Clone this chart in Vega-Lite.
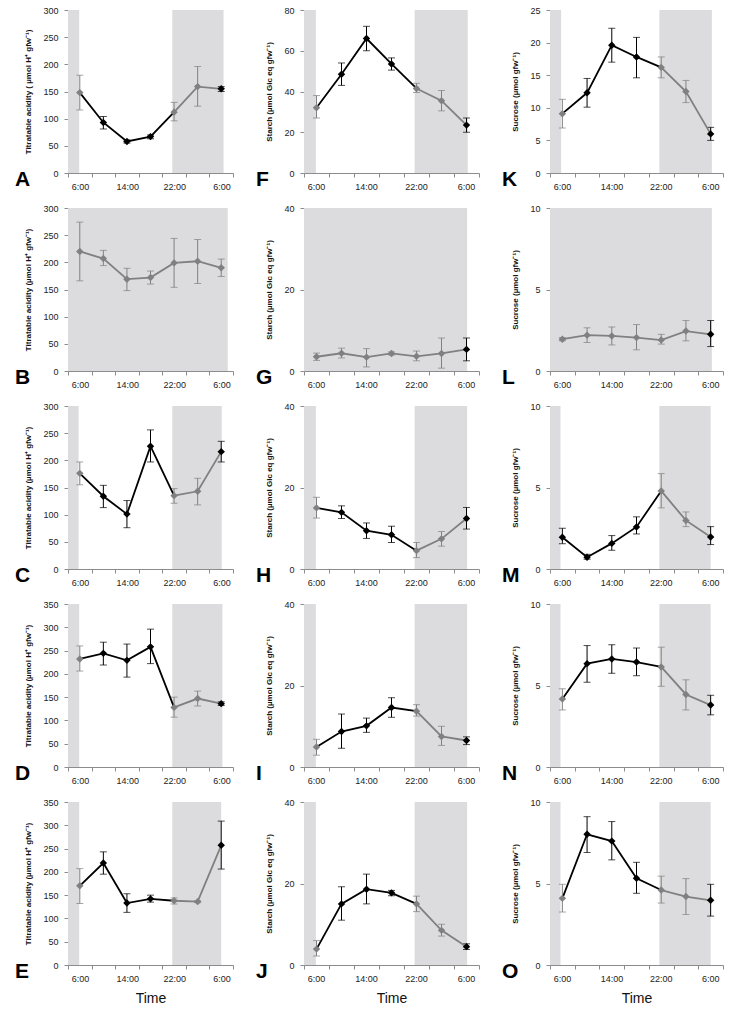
{
"$schema": "https://vega.github.io/schema/vega-lite/v6.json",
"padding": {"left": 14, "top": 6, "right": 5, "bottom": 3},
"columns": 3,
"spacing": {"row": 13, "column": 10},
"align": "each",
"config": {
 "view": {"stroke": null},
 "axis": {"domainColor": "#8c8c8c", "tickColor": "#8c8c8c", "grid": false, "labelFont": "Liberation Sans", "labelFontSize": 9, "labelColor": "#222222", "tickSize": 4, "titleFont": "Liberation Sans", "titleFontSize": 8, "titleFontWeight": "bold", "titleColor": "#111111"},
 "axisX": {"labelPadding": 5, "labelOffset": 12, "labelFlush": false, "labelOverlap": false, "labelBound": false, "titleFontSize": 14, "titleFontWeight": "normal", "titlePadding": 8},
 "axisY": {"labelPadding": 6, "titlePadding": 10},
 "title": {"font": "Liberation Sans", "fontSize": 21, "fontWeight": "bold", "orient": "bottom", "anchor": "start", "frame": "bounds", "offset": -22, "dx": -10, "color": "#000000"}
},
"datasets": {
 "shade": [
  {"p": "A", "t": 4, "t2": 5.9}, {"p": "A", "t": 21.7, "t2": 30.4},
  {"p": "B", "t": 4, "t2": 31.1},
  {"p": "C", "t": 4, "t2": 5.8}, {"p": "C", "t": 21.7, "t2": 30.1},
  {"p": "D", "t": 4, "t2": 5.9}, {"p": "D", "t": 21.7, "t2": 30.2},
  {"p": "E", "t": 4, "t2": 5.9}, {"p": "E", "t": 21.7, "t2": 30.0},
  {"p": "F", "t": 4, "t2": 5.9}, {"p": "F", "t": 21.7, "t2": 30.2},
  {"p": "G", "t": 4, "t2": 30.1},
  {"p": "H", "t": 4, "t2": 5.9}, {"p": "H", "t": 21.7, "t2": 30.1},
  {"p": "I", "t": 4, "t2": 5.9}, {"p": "I", "t": 21.7, "t2": 30.1},
  {"p": "J", "t": 4, "t2": 5.9}, {"p": "J", "t": 21.7, "t2": 30.1},
  {"p": "K", "t": 4, "t2": 5.8}, {"p": "K", "t": 21.7, "t2": 30.2},
  {"p": "L", "t": 4, "t2": 30.2},
  {"p": "M", "t": 4, "t2": 5.7}, {"p": "M", "t": 21.7, "t2": 30.0},
  {"p": "N", "t": 4, "t2": 5.7}, {"p": "N", "t": 21.7, "t2": 30.0},
  {"p": "O", "t": 4, "t2": 5.7}, {"p": "O", "t": 21.7, "t2": 30.0}
 ],
 "pts": [
  {"p": "A", "t": 6, "v": 148, "lo": 116, "hi": 180, "c": "D"},
  {"p": "A", "t": 10, "v": 93, "lo": 81, "hi": 104, "c": "L"},
  {"p": "A", "t": 14, "v": 58, "lo": 55, "hi": 61, "c": "L"},
  {"p": "A", "t": 18, "v": 67, "lo": 63, "hi": 70, "c": "L"},
  {"p": "A", "t": 22, "v": 112, "lo": 96, "hi": 130, "c": "D"},
  {"p": "A", "t": 26, "v": 159, "lo": 123, "hi": 196, "c": "D"},
  {"p": "A", "t": 30, "v": 155, "lo": 150, "hi": 159, "c": "L"},
  {"p": "B", "t": 6, "v": 220, "lo": 166, "hi": 274, "c": "D"},
  {"p": "B", "t": 10, "v": 207, "lo": 194, "hi": 222, "c": "D"},
  {"p": "B", "t": 14, "v": 169, "lo": 148, "hi": 189, "c": "D"},
  {"p": "B", "t": 18, "v": 172, "lo": 160, "hi": 184, "c": "D"},
  {"p": "B", "t": 22, "v": 199, "lo": 154, "hi": 244, "c": "D"},
  {"p": "B", "t": 26, "v": 202, "lo": 161, "hi": 242, "c": "D"},
  {"p": "B", "t": 30, "v": 190, "lo": 174, "hi": 206, "c": "D"},
  {"p": "C", "t": 6, "v": 176, "lo": 155, "hi": 197, "c": "D"},
  {"p": "C", "t": 10, "v": 134, "lo": 113, "hi": 154, "c": "L"},
  {"p": "C", "t": 14, "v": 101, "lo": 76, "hi": 126, "c": "L"},
  {"p": "C", "t": 18, "v": 226, "lo": 197, "hi": 256, "c": "L"},
  {"p": "C", "t": 22, "v": 135, "lo": 121, "hi": 148, "c": "D"},
  {"p": "C", "t": 26, "v": 143, "lo": 118, "hi": 167, "c": "D"},
  {"p": "C", "t": 30, "v": 216, "lo": 197, "hi": 235, "c": "L"},
  {"p": "D", "t": 6, "v": 232, "lo": 206, "hi": 260, "c": "D"},
  {"p": "D", "t": 10, "v": 244, "lo": 219, "hi": 268, "c": "L"},
  {"p": "D", "t": 14, "v": 229, "lo": 193, "hi": 264, "c": "L"},
  {"p": "D", "t": 18, "v": 258, "lo": 222, "hi": 296, "c": "L"},
  {"p": "D", "t": 22, "v": 128, "lo": 107, "hi": 150, "c": "D"},
  {"p": "D", "t": 26, "v": 147, "lo": 131, "hi": 163, "c": "D"},
  {"p": "D", "t": 30, "v": 136, "lo": 132, "hi": 140, "c": "L"},
  {"p": "E", "t": 6, "v": 170, "lo": 132, "hi": 207, "c": "D"},
  {"p": "E", "t": 10, "v": 219, "lo": 195, "hi": 243, "c": "L"},
  {"p": "E", "t": 14, "v": 133, "lo": 113, "hi": 153, "c": "L"},
  {"p": "E", "t": 18, "v": 142, "lo": 135, "hi": 150, "c": "L"},
  {"p": "E", "t": 22, "v": 138, "lo": 131, "hi": 144, "c": "D"},
  {"p": "E", "t": 26, "v": 136, "lo": 134, "hi": 138, "c": "D"},
  {"p": "E", "t": 30, "v": 257, "lo": 206, "hi": 309, "c": "L"},
  {"p": "F", "t": 6, "v": 32, "lo": 27, "hi": 38, "c": "D"},
  {"p": "F", "t": 10, "v": 48.5, "lo": 43, "hi": 54, "c": "L"},
  {"p": "F", "t": 14, "v": 66, "lo": 60, "hi": 72, "c": "L"},
  {"p": "F", "t": 18, "v": 53.5, "lo": 50.5, "hi": 56.5, "c": "L"},
  {"p": "F", "t": 22, "v": 41.5, "lo": 39.5, "hi": 44, "c": "D"},
  {"p": "F", "t": 26, "v": 35.5, "lo": 30.5, "hi": 40.5, "c": "D"},
  {"p": "F", "t": 30, "v": 23.5, "lo": 20, "hi": 27, "c": "L"},
  {"p": "G", "t": 6, "v": 3.5, "lo": 2.6, "hi": 4.4, "c": "D"},
  {"p": "G", "t": 10, "v": 4.35, "lo": 3.2, "hi": 5.6, "c": "D"},
  {"p": "G", "t": 14, "v": 3.4, "lo": 1.0, "hi": 5.5, "c": "D"},
  {"p": "G", "t": 18, "v": 4.3, "lo": 3.9, "hi": 4.7, "c": "D"},
  {"p": "G", "t": 22, "v": 3.6, "lo": 2.5, "hi": 4.9, "c": "D"},
  {"p": "G", "t": 26, "v": 4.3, "lo": 0.7, "hi": 8.1, "c": "D"},
  {"p": "G", "t": 30, "v": 5.3, "lo": 2.5, "hi": 8.1, "c": "L"},
  {"p": "H", "t": 6, "v": 15.0, "lo": 12.5, "hi": 17.6, "c": "D"},
  {"p": "H", "t": 10, "v": 13.9, "lo": 12.4, "hi": 15.5, "c": "L"},
  {"p": "H", "t": 14, "v": 9.4, "lo": 7.5, "hi": 11.3, "c": "L"},
  {"p": "H", "t": 18, "v": 8.4, "lo": 6.5, "hi": 10.5, "c": "L"},
  {"p": "H", "t": 22, "v": 4.5, "lo": 2.8, "hi": 6.5, "c": "D"},
  {"p": "H", "t": 26, "v": 7.4, "lo": 5.6, "hi": 9.2, "c": "D"},
  {"p": "H", "t": 30, "v": 12.4, "lo": 9.8, "hi": 15.1, "c": "L"},
  {"p": "I", "t": 6, "v": 4.9, "lo": 2.9, "hi": 6.8, "c": "D"},
  {"p": "I", "t": 10, "v": 8.7, "lo": 4.6, "hi": 13, "c": "L"},
  {"p": "I", "t": 14, "v": 10.1, "lo": 8.5, "hi": 12, "c": "L"},
  {"p": "I", "t": 18, "v": 14.6, "lo": 12.2, "hi": 17.0, "c": "L"},
  {"p": "I", "t": 22, "v": 13.7, "lo": 12.5, "hi": 15.3, "c": "D"},
  {"p": "I", "t": 26, "v": 7.5, "lo": 5.3, "hi": 10, "c": "D"},
  {"p": "I", "t": 30, "v": 6.5, "lo": 5.5, "hi": 7.4, "c": "L"},
  {"p": "J", "t": 6, "v": 3.9, "lo": 2.2, "hi": 6.0, "c": "D"},
  {"p": "J", "t": 10, "v": 15.0, "lo": 11, "hi": 19.2, "c": "L"},
  {"p": "J", "t": 14, "v": 18.6, "lo": 15, "hi": 22.3, "c": "L"},
  {"p": "J", "t": 18, "v": 17.7, "lo": 17, "hi": 18.3, "c": "L"},
  {"p": "J", "t": 22, "v": 15.0, "lo": 13.1, "hi": 16.9, "c": "D"},
  {"p": "J", "t": 26, "v": 8.5, "lo": 7.1, "hi": 10, "c": "D"},
  {"p": "J", "t": 30, "v": 4.5, "lo": 3.8, "hi": 5.2, "c": "L"},
  {"p": "K", "t": 6, "v": 9.1, "lo": 6.9, "hi": 11.3, "c": "D"},
  {"p": "K", "t": 10, "v": 12.3, "lo": 10.1, "hi": 14.5, "c": "L"},
  {"p": "K", "t": 14, "v": 19.6, "lo": 17, "hi": 22.2, "c": "L"},
  {"p": "K", "t": 18, "v": 17.8, "lo": 14.6, "hi": 20.8, "c": "L"},
  {"p": "K", "t": 22, "v": 16.2, "lo": 14.6, "hi": 17.8, "c": "D"},
  {"p": "K", "t": 26, "v": 12.5, "lo": 10.8, "hi": 14.2, "c": "D"},
  {"p": "K", "t": 30, "v": 6.0, "lo": 5.0, "hi": 7.0, "c": "L"},
  {"p": "L", "t": 6, "v": 1.95, "lo": 1.85, "hi": 2.05, "c": "D"},
  {"p": "L", "t": 10, "v": 2.2, "lo": 1.75, "hi": 2.65, "c": "D"},
  {"p": "L", "t": 14, "v": 2.15, "lo": 1.6, "hi": 2.7, "c": "D"},
  {"p": "L", "t": 18, "v": 2.05, "lo": 1.3, "hi": 2.85, "c": "D"},
  {"p": "L", "t": 22, "v": 1.9, "lo": 1.65, "hi": 2.25, "c": "D"},
  {"p": "L", "t": 26, "v": 2.45, "lo": 1.85, "hi": 3.1, "c": "D"},
  {"p": "L", "t": 30, "v": 2.25, "lo": 1.5, "hi": 3.1, "c": "L"},
  {"p": "M", "t": 6, "v": 1.95, "lo": 1.55, "hi": 2.5, "c": "L"},
  {"p": "M", "t": 10, "v": 0.72, "lo": 0.6, "hi": 0.9, "c": "L"},
  {"p": "M", "t": 14, "v": 1.57, "lo": 1.15, "hi": 2.05, "c": "L"},
  {"p": "M", "t": 18, "v": 2.58, "lo": 2.15, "hi": 3.2, "c": "L"},
  {"p": "M", "t": 22, "v": 4.79, "lo": 3.75, "hi": 5.85, "c": "D"},
  {"p": "M", "t": 26, "v": 2.98, "lo": 2.6, "hi": 3.5, "c": "D"},
  {"p": "M", "t": 30, "v": 1.96, "lo": 1.5, "hi": 2.6, "c": "L"},
  {"p": "N", "t": 6, "v": 4.17, "lo": 3.5, "hi": 4.8, "c": "D"},
  {"p": "N", "t": 10, "v": 6.34, "lo": 5.2, "hi": 7.45, "c": "L"},
  {"p": "N", "t": 14, "v": 6.63, "lo": 5.75, "hi": 7.5, "c": "L"},
  {"p": "N", "t": 18, "v": 6.44, "lo": 5.6, "hi": 7.3, "c": "L"},
  {"p": "N", "t": 22, "v": 6.14, "lo": 4.95, "hi": 7.35, "c": "D"},
  {"p": "N", "t": 26, "v": 4.45, "lo": 3.5, "hi": 5.35, "c": "D"},
  {"p": "N", "t": 30, "v": 3.8, "lo": 3.2, "hi": 4.4, "c": "L"},
  {"p": "O", "t": 6, "v": 4.09, "lo": 3.25, "hi": 4.95, "c": "D"},
  {"p": "O", "t": 10, "v": 8.02, "lo": 6.9, "hi": 9.1, "c": "L"},
  {"p": "O", "t": 14, "v": 7.6, "lo": 6.45, "hi": 8.8, "c": "L"},
  {"p": "O", "t": 18, "v": 5.32, "lo": 4.4, "hi": 6.3, "c": "L"},
  {"p": "O", "t": 22, "v": 4.6, "lo": 3.8, "hi": 5.45, "c": "D"},
  {"p": "O", "t": 26, "v": 4.2, "lo": 3.1, "hi": 5.3, "c": "D"},
  {"p": "O", "t": 30, "v": 3.97, "lo": 3.0, "hi": 4.95, "c": "L"}
 ]
},
"concat": [
 {"width": 165, "height": 163, "title": "A",
  "encoding": {"x": {"field": "t", "type": "quantitative", "scale": {"domain": [4, 32], "nice": false}, "axis": {"values": [4, 8, 12, 16, 20, 24, 28, 32], "labelExpr": "datum.value == 4 ? '6:00' : datum.value == 12 ? '14:00' : datum.value == 20 ? '22:00' : datum.value == 28 ? '6:00' : ''", "title": null}}},
  "layer": [
   {"data": {"name": "shade"}, "transform": [{"filter": "datum.p == 'A'"}], "mark": {"type": "rect", "color": "#dcdcde"}, "encoding": {"x2": {"field": "t2"}}},
   {"data": {"name": "pts"}, "transform": [{"filter": "datum.p == 'A'"}], "layer": [
    {"mark": {"type": "rule", "strokeWidth": 1}, "encoding": {"y": {"field": "lo", "type": "quantitative", "scale": {"domain": [0, 300], "nice": false}, "axis": {"values": [0, 50, 100, 150, 200, 250, 300], "title": "Titratable acidity ( µmol H⁺ gfw⁻¹)"}}, "y2": {"field": "hi"}, "color": {"field": "c", "type": "nominal", "scale": {"domain": ["L", "D"], "range": ["#000000", "#808080"]}, "legend": null}}},
    {"mark": {"type": "tick", "orient": "horizontal", "size": 7, "thickness": 1}, "encoding": {"y": {"field": "lo", "type": "quantitative", "scale": {"domain": [0, 300], "nice": false}, "axis": {"values": [0, 50, 100, 150, 200, 250, 300], "title": "Titratable acidity ( µmol H⁺ gfw⁻¹)"}}, "color": {"field": "c", "type": "nominal", "scale": {"domain": ["L", "D"], "range": ["#000000", "#808080"]}, "legend": null}}},
    {"mark": {"type": "tick", "orient": "horizontal", "size": 7, "thickness": 1}, "encoding": {"y": {"field": "hi", "type": "quantitative", "scale": {"domain": [0, 300], "nice": false}, "axis": {"values": [0, 50, 100, 150, 200, 250, 300], "title": "Titratable acidity ( µmol H⁺ gfw⁻¹)"}}, "color": {"field": "c", "type": "nominal", "scale": {"domain": ["L", "D"], "range": ["#000000", "#808080"]}, "legend": null}}},
    {"transform": [{"filter": "datum.t <= 22"}], "mark": {"type": "line", "color": "#000000", "strokeWidth": 1.8}, "encoding": {"y": {"field": "v", "type": "quantitative", "scale": {"domain": [0, 300], "nice": false}, "axis": {"values": [0, 50, 100, 150, 200, 250, 300], "title": "Titratable acidity ( µmol H⁺ gfw⁻¹)"}}}},
    {"transform": [{"filter": "datum.t >= 22"}], "mark": {"type": "line", "color": "#808080", "strokeWidth": 1.8}, "encoding": {"y": {"field": "v", "type": "quantitative", "scale": {"domain": [0, 300], "nice": false}, "axis": {"values": [0, 50, 100, 150, 200, 250, 300], "title": "Titratable acidity ( µmol H⁺ gfw⁻¹)"}}}},
    {"mark": {"type": "point", "shape": "diamond", "filled": true, "size": 55, "opacity": 1}, "encoding": {"y": {"field": "v", "type": "quantitative", "scale": {"domain": [0, 300], "nice": false}, "axis": {"values": [0, 50, 100, 150, 200, 250, 300], "title": "Titratable acidity ( µmol H⁺ gfw⁻¹)"}}, "color": {"field": "c", "type": "nominal", "scale": {"domain": ["L", "D"], "range": ["#000000", "#808080"]}, "legend": null}}}
   ]}
  ]},
 {"width": 175, "height": 163, "title": "F",
  "encoding": {"x": {"field": "t", "type": "quantitative", "scale": {"domain": [4, 32], "nice": false}, "axis": {"values": [4, 8, 12, 16, 20, 24, 28, 32], "labelExpr": "datum.value == 4 ? '6:00' : datum.value == 12 ? '14:00' : datum.value == 20 ? '22:00' : datum.value == 28 ? '6:00' : ''", "title": null}}},
  "layer": [
   {"data": {"name": "shade"}, "transform": [{"filter": "datum.p == 'F'"}], "mark": {"type": "rect", "color": "#dcdcde"}, "encoding": {"x2": {"field": "t2"}}},
   {"data": {"name": "pts"}, "transform": [{"filter": "datum.p == 'F'"}], "layer": [
    {"mark": {"type": "rule", "strokeWidth": 1}, "encoding": {"y": {"field": "lo", "type": "quantitative", "scale": {"domain": [0, 80], "nice": false}, "axis": {"values": [0, 20, 40, 60, 80], "title": "Starch (µmol Glc eq gfw⁻¹)"}}, "y2": {"field": "hi"}, "color": {"field": "c", "type": "nominal", "scale": {"domain": ["L", "D"], "range": ["#000000", "#808080"]}, "legend": null}}},
    {"mark": {"type": "tick", "orient": "horizontal", "size": 7, "thickness": 1}, "encoding": {"y": {"field": "lo", "type": "quantitative", "scale": {"domain": [0, 80], "nice": false}, "axis": {"values": [0, 20, 40, 60, 80], "title": "Starch (µmol Glc eq gfw⁻¹)"}}, "color": {"field": "c", "type": "nominal", "scale": {"domain": ["L", "D"], "range": ["#000000", "#808080"]}, "legend": null}}},
    {"mark": {"type": "tick", "orient": "horizontal", "size": 7, "thickness": 1}, "encoding": {"y": {"field": "hi", "type": "quantitative", "scale": {"domain": [0, 80], "nice": false}, "axis": {"values": [0, 20, 40, 60, 80], "title": "Starch (µmol Glc eq gfw⁻¹)"}}, "color": {"field": "c", "type": "nominal", "scale": {"domain": ["L", "D"], "range": ["#000000", "#808080"]}, "legend": null}}},
    {"transform": [{"filter": "datum.t <= 22"}], "mark": {"type": "line", "color": "#000000", "strokeWidth": 1.8}, "encoding": {"y": {"field": "v", "type": "quantitative", "scale": {"domain": [0, 80], "nice": false}, "axis": {"values": [0, 20, 40, 60, 80], "title": "Starch (µmol Glc eq gfw⁻¹)"}}}},
    {"transform": [{"filter": "datum.t >= 22"}], "mark": {"type": "line", "color": "#808080", "strokeWidth": 1.8}, "encoding": {"y": {"field": "v", "type": "quantitative", "scale": {"domain": [0, 80], "nice": false}, "axis": {"values": [0, 20, 40, 60, 80], "title": "Starch (µmol Glc eq gfw⁻¹)"}}}},
    {"mark": {"type": "point", "shape": "diamond", "filled": true, "size": 55, "opacity": 1}, "encoding": {"y": {"field": "v", "type": "quantitative", "scale": {"domain": [0, 80], "nice": false}, "axis": {"values": [0, 20, 40, 60, 80], "title": "Starch (µmol Glc eq gfw⁻¹)"}}, "color": {"field": "c", "type": "nominal", "scale": {"domain": ["L", "D"], "range": ["#000000", "#808080"]}, "legend": null}}}
   ]}
  ]},
 {"width": 173, "height": 163, "title": "K",
  "encoding": {"x": {"field": "t", "type": "quantitative", "scale": {"domain": [4, 32], "nice": false}, "axis": {"values": [4, 8, 12, 16, 20, 24, 28, 32], "labelExpr": "datum.value == 4 ? '6:00' : datum.value == 12 ? '14:00' : datum.value == 20 ? '22:00' : datum.value == 28 ? '6:00' : ''", "title": null}}},
  "layer": [
   {"data": {"name": "shade"}, "transform": [{"filter": "datum.p == 'K'"}], "mark": {"type": "rect", "color": "#dcdcde"}, "encoding": {"x2": {"field": "t2"}}},
   {"data": {"name": "pts"}, "transform": [{"filter": "datum.p == 'K'"}], "layer": [
    {"mark": {"type": "rule", "strokeWidth": 1}, "encoding": {"y": {"field": "lo", "type": "quantitative", "scale": {"domain": [0, 25], "nice": false}, "axis": {"values": [0, 5, 10, 15, 20, 25], "title": "Sucrose (µmol gfw⁻¹)"}}, "y2": {"field": "hi"}, "color": {"field": "c", "type": "nominal", "scale": {"domain": ["L", "D"], "range": ["#000000", "#808080"]}, "legend": null}}},
    {"mark": {"type": "tick", "orient": "horizontal", "size": 7, "thickness": 1}, "encoding": {"y": {"field": "lo", "type": "quantitative", "scale": {"domain": [0, 25], "nice": false}, "axis": {"values": [0, 5, 10, 15, 20, 25], "title": "Sucrose (µmol gfw⁻¹)"}}, "color": {"field": "c", "type": "nominal", "scale": {"domain": ["L", "D"], "range": ["#000000", "#808080"]}, "legend": null}}},
    {"mark": {"type": "tick", "orient": "horizontal", "size": 7, "thickness": 1}, "encoding": {"y": {"field": "hi", "type": "quantitative", "scale": {"domain": [0, 25], "nice": false}, "axis": {"values": [0, 5, 10, 15, 20, 25], "title": "Sucrose (µmol gfw⁻¹)"}}, "color": {"field": "c", "type": "nominal", "scale": {"domain": ["L", "D"], "range": ["#000000", "#808080"]}, "legend": null}}},
    {"transform": [{"filter": "datum.t <= 22"}], "mark": {"type": "line", "color": "#000000", "strokeWidth": 1.8}, "encoding": {"y": {"field": "v", "type": "quantitative", "scale": {"domain": [0, 25], "nice": false}, "axis": {"values": [0, 5, 10, 15, 20, 25], "title": "Sucrose (µmol gfw⁻¹)"}}}},
    {"transform": [{"filter": "datum.t >= 22"}], "mark": {"type": "line", "color": "#808080", "strokeWidth": 1.8}, "encoding": {"y": {"field": "v", "type": "quantitative", "scale": {"domain": [0, 25], "nice": false}, "axis": {"values": [0, 5, 10, 15, 20, 25], "title": "Sucrose (µmol gfw⁻¹)"}}}},
    {"mark": {"type": "point", "shape": "diamond", "filled": true, "size": 55, "opacity": 1}, "encoding": {"y": {"field": "v", "type": "quantitative", "scale": {"domain": [0, 25], "nice": false}, "axis": {"values": [0, 5, 10, 15, 20, 25], "title": "Sucrose (µmol gfw⁻¹)"}}, "color": {"field": "c", "type": "nominal", "scale": {"domain": ["L", "D"], "range": ["#000000", "#808080"]}, "legend": null}}}
   ]}
  ]},
 {"width": 165, "height": 163, "title": "B",
  "encoding": {"x": {"field": "t", "type": "quantitative", "scale": {"domain": [4, 32], "nice": false}, "axis": {"values": [4, 8, 12, 16, 20, 24, 28, 32], "labelExpr": "datum.value == 4 ? '6:00' : datum.value == 12 ? '14:00' : datum.value == 20 ? '22:00' : datum.value == 28 ? '6:00' : ''", "title": null}}},
  "layer": [
   {"data": {"name": "shade"}, "transform": [{"filter": "datum.p == 'B'"}], "mark": {"type": "rect", "color": "#dcdcde"}, "encoding": {"x2": {"field": "t2"}}},
   {"data": {"name": "pts"}, "transform": [{"filter": "datum.p == 'B'"}], "layer": [
    {"mark": {"type": "rule", "strokeWidth": 1}, "encoding": {"y": {"field": "lo", "type": "quantitative", "scale": {"domain": [0, 300], "nice": false}, "axis": {"values": [0, 50, 100, 150, 200, 250, 300], "title": "Titratable acidity (µmol H⁺ gfw⁻¹)"}}, "y2": {"field": "hi"}, "color": {"field": "c", "type": "nominal", "scale": {"domain": ["L", "D"], "range": ["#000000", "#808080"]}, "legend": null}}},
    {"mark": {"type": "tick", "orient": "horizontal", "size": 7, "thickness": 1}, "encoding": {"y": {"field": "lo", "type": "quantitative", "scale": {"domain": [0, 300], "nice": false}, "axis": {"values": [0, 50, 100, 150, 200, 250, 300], "title": "Titratable acidity (µmol H⁺ gfw⁻¹)"}}, "color": {"field": "c", "type": "nominal", "scale": {"domain": ["L", "D"], "range": ["#000000", "#808080"]}, "legend": null}}},
    {"mark": {"type": "tick", "orient": "horizontal", "size": 7, "thickness": 1}, "encoding": {"y": {"field": "hi", "type": "quantitative", "scale": {"domain": [0, 300], "nice": false}, "axis": {"values": [0, 50, 100, 150, 200, 250, 300], "title": "Titratable acidity (µmol H⁺ gfw⁻¹)"}}, "color": {"field": "c", "type": "nominal", "scale": {"domain": ["L", "D"], "range": ["#000000", "#808080"]}, "legend": null}}},
    {"mark": {"type": "line", "color": "#808080", "strokeWidth": 1.8}, "encoding": {"y": {"field": "v", "type": "quantitative", "scale": {"domain": [0, 300], "nice": false}, "axis": {"values": [0, 50, 100, 150, 200, 250, 300], "title": "Titratable acidity (µmol H⁺ gfw⁻¹)"}}}},
    {"mark": {"type": "point", "shape": "diamond", "filled": true, "size": 55, "opacity": 1}, "encoding": {"y": {"field": "v", "type": "quantitative", "scale": {"domain": [0, 300], "nice": false}, "axis": {"values": [0, 50, 100, 150, 200, 250, 300], "title": "Titratable acidity (µmol H⁺ gfw⁻¹)"}}, "color": {"field": "c", "type": "nominal", "scale": {"domain": ["L", "D"], "range": ["#000000", "#808080"]}, "legend": null}}}
   ]}
  ]},
 {"width": 175, "height": 163, "title": "G",
  "encoding": {"x": {"field": "t", "type": "quantitative", "scale": {"domain": [4, 32], "nice": false}, "axis": {"values": [4, 8, 12, 16, 20, 24, 28, 32], "labelExpr": "datum.value == 4 ? '6:00' : datum.value == 12 ? '14:00' : datum.value == 20 ? '22:00' : datum.value == 28 ? '6:00' : ''", "title": null}}},
  "layer": [
   {"data": {"name": "shade"}, "transform": [{"filter": "datum.p == 'G'"}], "mark": {"type": "rect", "color": "#dcdcde"}, "encoding": {"x2": {"field": "t2"}}},
   {"data": {"name": "pts"}, "transform": [{"filter": "datum.p == 'G'"}], "layer": [
    {"mark": {"type": "rule", "strokeWidth": 1}, "encoding": {"y": {"field": "lo", "type": "quantitative", "scale": {"domain": [0, 40], "nice": false}, "axis": {"values": [0, 20, 40], "title": "Starch (µmol Glc eq gfw⁻¹)"}}, "y2": {"field": "hi"}, "color": {"field": "c", "type": "nominal", "scale": {"domain": ["L", "D"], "range": ["#000000", "#808080"]}, "legend": null}}},
    {"mark": {"type": "tick", "orient": "horizontal", "size": 7, "thickness": 1}, "encoding": {"y": {"field": "lo", "type": "quantitative", "scale": {"domain": [0, 40], "nice": false}, "axis": {"values": [0, 20, 40], "title": "Starch (µmol Glc eq gfw⁻¹)"}}, "color": {"field": "c", "type": "nominal", "scale": {"domain": ["L", "D"], "range": ["#000000", "#808080"]}, "legend": null}}},
    {"mark": {"type": "tick", "orient": "horizontal", "size": 7, "thickness": 1}, "encoding": {"y": {"field": "hi", "type": "quantitative", "scale": {"domain": [0, 40], "nice": false}, "axis": {"values": [0, 20, 40], "title": "Starch (µmol Glc eq gfw⁻¹)"}}, "color": {"field": "c", "type": "nominal", "scale": {"domain": ["L", "D"], "range": ["#000000", "#808080"]}, "legend": null}}},
    {"mark": {"type": "line", "color": "#808080", "strokeWidth": 1.8}, "encoding": {"y": {"field": "v", "type": "quantitative", "scale": {"domain": [0, 40], "nice": false}, "axis": {"values": [0, 20, 40], "title": "Starch (µmol Glc eq gfw⁻¹)"}}}},
    {"mark": {"type": "point", "shape": "diamond", "filled": true, "size": 55, "opacity": 1}, "encoding": {"y": {"field": "v", "type": "quantitative", "scale": {"domain": [0, 40], "nice": false}, "axis": {"values": [0, 20, 40], "title": "Starch (µmol Glc eq gfw⁻¹)"}}, "color": {"field": "c", "type": "nominal", "scale": {"domain": ["L", "D"], "range": ["#000000", "#808080"]}, "legend": null}}}
   ]}
  ]},
 {"width": 173, "height": 163, "title": "L",
  "encoding": {"x": {"field": "t", "type": "quantitative", "scale": {"domain": [4, 32], "nice": false}, "axis": {"values": [4, 8, 12, 16, 20, 24, 28, 32], "labelExpr": "datum.value == 4 ? '6:00' : datum.value == 12 ? '14:00' : datum.value == 20 ? '22:00' : datum.value == 28 ? '6:00' : ''", "title": null}}},
  "layer": [
   {"data": {"name": "shade"}, "transform": [{"filter": "datum.p == 'L'"}], "mark": {"type": "rect", "color": "#dcdcde"}, "encoding": {"x2": {"field": "t2"}}},
   {"data": {"name": "pts"}, "transform": [{"filter": "datum.p == 'L'"}], "layer": [
    {"mark": {"type": "rule", "strokeWidth": 1}, "encoding": {"y": {"field": "lo", "type": "quantitative", "scale": {"domain": [0, 10], "nice": false}, "axis": {"values": [0, 5, 10], "title": "Sucrose (µmol gfw⁻¹)"}}, "y2": {"field": "hi"}, "color": {"field": "c", "type": "nominal", "scale": {"domain": ["L", "D"], "range": ["#000000", "#808080"]}, "legend": null}}},
    {"mark": {"type": "tick", "orient": "horizontal", "size": 7, "thickness": 1}, "encoding": {"y": {"field": "lo", "type": "quantitative", "scale": {"domain": [0, 10], "nice": false}, "axis": {"values": [0, 5, 10], "title": "Sucrose (µmol gfw⁻¹)"}}, "color": {"field": "c", "type": "nominal", "scale": {"domain": ["L", "D"], "range": ["#000000", "#808080"]}, "legend": null}}},
    {"mark": {"type": "tick", "orient": "horizontal", "size": 7, "thickness": 1}, "encoding": {"y": {"field": "hi", "type": "quantitative", "scale": {"domain": [0, 10], "nice": false}, "axis": {"values": [0, 5, 10], "title": "Sucrose (µmol gfw⁻¹)"}}, "color": {"field": "c", "type": "nominal", "scale": {"domain": ["L", "D"], "range": ["#000000", "#808080"]}, "legend": null}}},
    {"mark": {"type": "line", "color": "#808080", "strokeWidth": 1.8}, "encoding": {"y": {"field": "v", "type": "quantitative", "scale": {"domain": [0, 10], "nice": false}, "axis": {"values": [0, 5, 10], "title": "Sucrose (µmol gfw⁻¹)"}}}},
    {"mark": {"type": "point", "shape": "diamond", "filled": true, "size": 55, "opacity": 1}, "encoding": {"y": {"field": "v", "type": "quantitative", "scale": {"domain": [0, 10], "nice": false}, "axis": {"values": [0, 5, 10], "title": "Sucrose (µmol gfw⁻¹)"}}, "color": {"field": "c", "type": "nominal", "scale": {"domain": ["L", "D"], "range": ["#000000", "#808080"]}, "legend": null}}}
   ]}
  ]},
 {"width": 165, "height": 163, "title": "C",
  "encoding": {"x": {"field": "t", "type": "quantitative", "scale": {"domain": [4, 32], "nice": false}, "axis": {"values": [4, 8, 12, 16, 20, 24, 28, 32], "labelExpr": "datum.value == 4 ? '6:00' : datum.value == 12 ? '14:00' : datum.value == 20 ? '22:00' : datum.value == 28 ? '6:00' : ''", "title": null}}},
  "layer": [
   {"data": {"name": "shade"}, "transform": [{"filter": "datum.p == 'C'"}], "mark": {"type": "rect", "color": "#dcdcde"}, "encoding": {"x2": {"field": "t2"}}},
   {"data": {"name": "pts"}, "transform": [{"filter": "datum.p == 'C'"}], "layer": [
    {"mark": {"type": "rule", "strokeWidth": 1}, "encoding": {"y": {"field": "lo", "type": "quantitative", "scale": {"domain": [0, 300], "nice": false}, "axis": {"values": [0, 50, 100, 150, 200, 250, 300], "title": "Titratable acidity (µmol H⁺ gfw⁻¹)"}}, "y2": {"field": "hi"}, "color": {"field": "c", "type": "nominal", "scale": {"domain": ["L", "D"], "range": ["#000000", "#808080"]}, "legend": null}}},
    {"mark": {"type": "tick", "orient": "horizontal", "size": 7, "thickness": 1}, "encoding": {"y": {"field": "lo", "type": "quantitative", "scale": {"domain": [0, 300], "nice": false}, "axis": {"values": [0, 50, 100, 150, 200, 250, 300], "title": "Titratable acidity (µmol H⁺ gfw⁻¹)"}}, "color": {"field": "c", "type": "nominal", "scale": {"domain": ["L", "D"], "range": ["#000000", "#808080"]}, "legend": null}}},
    {"mark": {"type": "tick", "orient": "horizontal", "size": 7, "thickness": 1}, "encoding": {"y": {"field": "hi", "type": "quantitative", "scale": {"domain": [0, 300], "nice": false}, "axis": {"values": [0, 50, 100, 150, 200, 250, 300], "title": "Titratable acidity (µmol H⁺ gfw⁻¹)"}}, "color": {"field": "c", "type": "nominal", "scale": {"domain": ["L", "D"], "range": ["#000000", "#808080"]}, "legend": null}}},
    {"transform": [{"filter": "datum.t <= 22"}], "mark": {"type": "line", "color": "#000000", "strokeWidth": 1.8}, "encoding": {"y": {"field": "v", "type": "quantitative", "scale": {"domain": [0, 300], "nice": false}, "axis": {"values": [0, 50, 100, 150, 200, 250, 300], "title": "Titratable acidity (µmol H⁺ gfw⁻¹)"}}}},
    {"transform": [{"filter": "datum.t >= 22"}], "mark": {"type": "line", "color": "#808080", "strokeWidth": 1.8}, "encoding": {"y": {"field": "v", "type": "quantitative", "scale": {"domain": [0, 300], "nice": false}, "axis": {"values": [0, 50, 100, 150, 200, 250, 300], "title": "Titratable acidity (µmol H⁺ gfw⁻¹)"}}}},
    {"mark": {"type": "point", "shape": "diamond", "filled": true, "size": 55, "opacity": 1}, "encoding": {"y": {"field": "v", "type": "quantitative", "scale": {"domain": [0, 300], "nice": false}, "axis": {"values": [0, 50, 100, 150, 200, 250, 300], "title": "Titratable acidity (µmol H⁺ gfw⁻¹)"}}, "color": {"field": "c", "type": "nominal", "scale": {"domain": ["L", "D"], "range": ["#000000", "#808080"]}, "legend": null}}}
   ]}
  ]},
 {"width": 175, "height": 163, "title": "H",
  "encoding": {"x": {"field": "t", "type": "quantitative", "scale": {"domain": [4, 32], "nice": false}, "axis": {"values": [4, 8, 12, 16, 20, 24, 28, 32], "labelExpr": "datum.value == 4 ? '6:00' : datum.value == 12 ? '14:00' : datum.value == 20 ? '22:00' : datum.value == 28 ? '6:00' : ''", "title": null}}},
  "layer": [
   {"data": {"name": "shade"}, "transform": [{"filter": "datum.p == 'H'"}], "mark": {"type": "rect", "color": "#dcdcde"}, "encoding": {"x2": {"field": "t2"}}},
   {"data": {"name": "pts"}, "transform": [{"filter": "datum.p == 'H'"}], "layer": [
    {"mark": {"type": "rule", "strokeWidth": 1}, "encoding": {"y": {"field": "lo", "type": "quantitative", "scale": {"domain": [0, 40], "nice": false}, "axis": {"values": [0, 20, 40], "title": "Starch (µmol Glc eq gfw⁻¹)"}}, "y2": {"field": "hi"}, "color": {"field": "c", "type": "nominal", "scale": {"domain": ["L", "D"], "range": ["#000000", "#808080"]}, "legend": null}}},
    {"mark": {"type": "tick", "orient": "horizontal", "size": 7, "thickness": 1}, "encoding": {"y": {"field": "lo", "type": "quantitative", "scale": {"domain": [0, 40], "nice": false}, "axis": {"values": [0, 20, 40], "title": "Starch (µmol Glc eq gfw⁻¹)"}}, "color": {"field": "c", "type": "nominal", "scale": {"domain": ["L", "D"], "range": ["#000000", "#808080"]}, "legend": null}}},
    {"mark": {"type": "tick", "orient": "horizontal", "size": 7, "thickness": 1}, "encoding": {"y": {"field": "hi", "type": "quantitative", "scale": {"domain": [0, 40], "nice": false}, "axis": {"values": [0, 20, 40], "title": "Starch (µmol Glc eq gfw⁻¹)"}}, "color": {"field": "c", "type": "nominal", "scale": {"domain": ["L", "D"], "range": ["#000000", "#808080"]}, "legend": null}}},
    {"transform": [{"filter": "datum.t <= 22"}], "mark": {"type": "line", "color": "#000000", "strokeWidth": 1.8}, "encoding": {"y": {"field": "v", "type": "quantitative", "scale": {"domain": [0, 40], "nice": false}, "axis": {"values": [0, 20, 40], "title": "Starch (µmol Glc eq gfw⁻¹)"}}}},
    {"transform": [{"filter": "datum.t >= 22"}], "mark": {"type": "line", "color": "#808080", "strokeWidth": 1.8}, "encoding": {"y": {"field": "v", "type": "quantitative", "scale": {"domain": [0, 40], "nice": false}, "axis": {"values": [0, 20, 40], "title": "Starch (µmol Glc eq gfw⁻¹)"}}}},
    {"mark": {"type": "point", "shape": "diamond", "filled": true, "size": 55, "opacity": 1}, "encoding": {"y": {"field": "v", "type": "quantitative", "scale": {"domain": [0, 40], "nice": false}, "axis": {"values": [0, 20, 40], "title": "Starch (µmol Glc eq gfw⁻¹)"}}, "color": {"field": "c", "type": "nominal", "scale": {"domain": ["L", "D"], "range": ["#000000", "#808080"]}, "legend": null}}}
   ]}
  ]},
 {"width": 173, "height": 163, "title": "M",
  "encoding": {"x": {"field": "t", "type": "quantitative", "scale": {"domain": [4, 32], "nice": false}, "axis": {"values": [4, 8, 12, 16, 20, 24, 28, 32], "labelExpr": "datum.value == 4 ? '6:00' : datum.value == 12 ? '14:00' : datum.value == 20 ? '22:00' : datum.value == 28 ? '6:00' : ''", "title": null}}},
  "layer": [
   {"data": {"name": "shade"}, "transform": [{"filter": "datum.p == 'M'"}], "mark": {"type": "rect", "color": "#dcdcde"}, "encoding": {"x2": {"field": "t2"}}},
   {"data": {"name": "pts"}, "transform": [{"filter": "datum.p == 'M'"}], "layer": [
    {"mark": {"type": "rule", "strokeWidth": 1}, "encoding": {"y": {"field": "lo", "type": "quantitative", "scale": {"domain": [0, 10], "nice": false}, "axis": {"values": [0, 5, 10], "title": "Sucrose (µmol gfw⁻¹)"}}, "y2": {"field": "hi"}, "color": {"field": "c", "type": "nominal", "scale": {"domain": ["L", "D"], "range": ["#000000", "#808080"]}, "legend": null}}},
    {"mark": {"type": "tick", "orient": "horizontal", "size": 7, "thickness": 1}, "encoding": {"y": {"field": "lo", "type": "quantitative", "scale": {"domain": [0, 10], "nice": false}, "axis": {"values": [0, 5, 10], "title": "Sucrose (µmol gfw⁻¹)"}}, "color": {"field": "c", "type": "nominal", "scale": {"domain": ["L", "D"], "range": ["#000000", "#808080"]}, "legend": null}}},
    {"mark": {"type": "tick", "orient": "horizontal", "size": 7, "thickness": 1}, "encoding": {"y": {"field": "hi", "type": "quantitative", "scale": {"domain": [0, 10], "nice": false}, "axis": {"values": [0, 5, 10], "title": "Sucrose (µmol gfw⁻¹)"}}, "color": {"field": "c", "type": "nominal", "scale": {"domain": ["L", "D"], "range": ["#000000", "#808080"]}, "legend": null}}},
    {"transform": [{"filter": "datum.t <= 22"}], "mark": {"type": "line", "color": "#000000", "strokeWidth": 1.8}, "encoding": {"y": {"field": "v", "type": "quantitative", "scale": {"domain": [0, 10], "nice": false}, "axis": {"values": [0, 5, 10], "title": "Sucrose (µmol gfw⁻¹)"}}}},
    {"transform": [{"filter": "datum.t >= 22"}], "mark": {"type": "line", "color": "#808080", "strokeWidth": 1.8}, "encoding": {"y": {"field": "v", "type": "quantitative", "scale": {"domain": [0, 10], "nice": false}, "axis": {"values": [0, 5, 10], "title": "Sucrose (µmol gfw⁻¹)"}}}},
    {"mark": {"type": "point", "shape": "diamond", "filled": true, "size": 55, "opacity": 1}, "encoding": {"y": {"field": "v", "type": "quantitative", "scale": {"domain": [0, 10], "nice": false}, "axis": {"values": [0, 5, 10], "title": "Sucrose (µmol gfw⁻¹)"}}, "color": {"field": "c", "type": "nominal", "scale": {"domain": ["L", "D"], "range": ["#000000", "#808080"]}, "legend": null}}}
   ]}
  ]},
 {"width": 165, "height": 163, "title": "D",
  "encoding": {"x": {"field": "t", "type": "quantitative", "scale": {"domain": [4, 32], "nice": false}, "axis": {"values": [4, 8, 12, 16, 20, 24, 28, 32], "labelExpr": "datum.value == 4 ? '6:00' : datum.value == 12 ? '14:00' : datum.value == 20 ? '22:00' : datum.value == 28 ? '6:00' : ''", "title": null}}},
  "layer": [
   {"data": {"name": "shade"}, "transform": [{"filter": "datum.p == 'D'"}], "mark": {"type": "rect", "color": "#dcdcde"}, "encoding": {"x2": {"field": "t2"}}},
   {"data": {"name": "pts"}, "transform": [{"filter": "datum.p == 'D'"}], "layer": [
    {"mark": {"type": "rule", "strokeWidth": 1}, "encoding": {"y": {"field": "lo", "type": "quantitative", "scale": {"domain": [0, 350], "nice": false}, "axis": {"values": [0, 50, 100, 150, 200, 250, 300, 350], "title": "Titratable acidity (µmol H⁺ gfw⁻¹)"}}, "y2": {"field": "hi"}, "color": {"field": "c", "type": "nominal", "scale": {"domain": ["L", "D"], "range": ["#000000", "#808080"]}, "legend": null}}},
    {"mark": {"type": "tick", "orient": "horizontal", "size": 7, "thickness": 1}, "encoding": {"y": {"field": "lo", "type": "quantitative", "scale": {"domain": [0, 350], "nice": false}, "axis": {"values": [0, 50, 100, 150, 200, 250, 300, 350], "title": "Titratable acidity (µmol H⁺ gfw⁻¹)"}}, "color": {"field": "c", "type": "nominal", "scale": {"domain": ["L", "D"], "range": ["#000000", "#808080"]}, "legend": null}}},
    {"mark": {"type": "tick", "orient": "horizontal", "size": 7, "thickness": 1}, "encoding": {"y": {"field": "hi", "type": "quantitative", "scale": {"domain": [0, 350], "nice": false}, "axis": {"values": [0, 50, 100, 150, 200, 250, 300, 350], "title": "Titratable acidity (µmol H⁺ gfw⁻¹)"}}, "color": {"field": "c", "type": "nominal", "scale": {"domain": ["L", "D"], "range": ["#000000", "#808080"]}, "legend": null}}},
    {"transform": [{"filter": "datum.t <= 22"}], "mark": {"type": "line", "color": "#000000", "strokeWidth": 1.8}, "encoding": {"y": {"field": "v", "type": "quantitative", "scale": {"domain": [0, 350], "nice": false}, "axis": {"values": [0, 50, 100, 150, 200, 250, 300, 350], "title": "Titratable acidity (µmol H⁺ gfw⁻¹)"}}}},
    {"transform": [{"filter": "datum.t >= 22"}], "mark": {"type": "line", "color": "#808080", "strokeWidth": 1.8}, "encoding": {"y": {"field": "v", "type": "quantitative", "scale": {"domain": [0, 350], "nice": false}, "axis": {"values": [0, 50, 100, 150, 200, 250, 300, 350], "title": "Titratable acidity (µmol H⁺ gfw⁻¹)"}}}},
    {"mark": {"type": "point", "shape": "diamond", "filled": true, "size": 55, "opacity": 1}, "encoding": {"y": {"field": "v", "type": "quantitative", "scale": {"domain": [0, 350], "nice": false}, "axis": {"values": [0, 50, 100, 150, 200, 250, 300, 350], "title": "Titratable acidity (µmol H⁺ gfw⁻¹)"}}, "color": {"field": "c", "type": "nominal", "scale": {"domain": ["L", "D"], "range": ["#000000", "#808080"]}, "legend": null}}}
   ]}
  ]},
 {"width": 175, "height": 163, "title": "I",
  "encoding": {"x": {"field": "t", "type": "quantitative", "scale": {"domain": [4, 32], "nice": false}, "axis": {"values": [4, 8, 12, 16, 20, 24, 28, 32], "labelExpr": "datum.value == 4 ? '6:00' : datum.value == 12 ? '14:00' : datum.value == 20 ? '22:00' : datum.value == 28 ? '6:00' : ''", "title": null}}},
  "layer": [
   {"data": {"name": "shade"}, "transform": [{"filter": "datum.p == 'I'"}], "mark": {"type": "rect", "color": "#dcdcde"}, "encoding": {"x2": {"field": "t2"}}},
   {"data": {"name": "pts"}, "transform": [{"filter": "datum.p == 'I'"}], "layer": [
    {"mark": {"type": "rule", "strokeWidth": 1}, "encoding": {"y": {"field": "lo", "type": "quantitative", "scale": {"domain": [0, 40], "nice": false}, "axis": {"values": [0, 20, 40], "title": "Starch (µmol Glc eq gfw⁻¹)"}}, "y2": {"field": "hi"}, "color": {"field": "c", "type": "nominal", "scale": {"domain": ["L", "D"], "range": ["#000000", "#808080"]}, "legend": null}}},
    {"mark": {"type": "tick", "orient": "horizontal", "size": 7, "thickness": 1}, "encoding": {"y": {"field": "lo", "type": "quantitative", "scale": {"domain": [0, 40], "nice": false}, "axis": {"values": [0, 20, 40], "title": "Starch (µmol Glc eq gfw⁻¹)"}}, "color": {"field": "c", "type": "nominal", "scale": {"domain": ["L", "D"], "range": ["#000000", "#808080"]}, "legend": null}}},
    {"mark": {"type": "tick", "orient": "horizontal", "size": 7, "thickness": 1}, "encoding": {"y": {"field": "hi", "type": "quantitative", "scale": {"domain": [0, 40], "nice": false}, "axis": {"values": [0, 20, 40], "title": "Starch (µmol Glc eq gfw⁻¹)"}}, "color": {"field": "c", "type": "nominal", "scale": {"domain": ["L", "D"], "range": ["#000000", "#808080"]}, "legend": null}}},
    {"transform": [{"filter": "datum.t <= 22"}], "mark": {"type": "line", "color": "#000000", "strokeWidth": 1.8}, "encoding": {"y": {"field": "v", "type": "quantitative", "scale": {"domain": [0, 40], "nice": false}, "axis": {"values": [0, 20, 40], "title": "Starch (µmol Glc eq gfw⁻¹)"}}}},
    {"transform": [{"filter": "datum.t >= 22"}], "mark": {"type": "line", "color": "#808080", "strokeWidth": 1.8}, "encoding": {"y": {"field": "v", "type": "quantitative", "scale": {"domain": [0, 40], "nice": false}, "axis": {"values": [0, 20, 40], "title": "Starch (µmol Glc eq gfw⁻¹)"}}}},
    {"mark": {"type": "point", "shape": "diamond", "filled": true, "size": 55, "opacity": 1}, "encoding": {"y": {"field": "v", "type": "quantitative", "scale": {"domain": [0, 40], "nice": false}, "axis": {"values": [0, 20, 40], "title": "Starch (µmol Glc eq gfw⁻¹)"}}, "color": {"field": "c", "type": "nominal", "scale": {"domain": ["L", "D"], "range": ["#000000", "#808080"]}, "legend": null}}}
   ]}
  ]},
 {"width": 173, "height": 163, "title": "N",
  "encoding": {"x": {"field": "t", "type": "quantitative", "scale": {"domain": [4, 32], "nice": false}, "axis": {"values": [4, 8, 12, 16, 20, 24, 28, 32], "labelExpr": "datum.value == 4 ? '6:00' : datum.value == 12 ? '14:00' : datum.value == 20 ? '22:00' : datum.value == 28 ? '6:00' : ''", "title": null}}},
  "layer": [
   {"data": {"name": "shade"}, "transform": [{"filter": "datum.p == 'N'"}], "mark": {"type": "rect", "color": "#dcdcde"}, "encoding": {"x2": {"field": "t2"}}},
   {"data": {"name": "pts"}, "transform": [{"filter": "datum.p == 'N'"}], "layer": [
    {"mark": {"type": "rule", "strokeWidth": 1}, "encoding": {"y": {"field": "lo", "type": "quantitative", "scale": {"domain": [0, 10], "nice": false}, "axis": {"values": [0, 5, 10], "title": "Sucrose (µmol gfw⁻¹)"}}, "y2": {"field": "hi"}, "color": {"field": "c", "type": "nominal", "scale": {"domain": ["L", "D"], "range": ["#000000", "#808080"]}, "legend": null}}},
    {"mark": {"type": "tick", "orient": "horizontal", "size": 7, "thickness": 1}, "encoding": {"y": {"field": "lo", "type": "quantitative", "scale": {"domain": [0, 10], "nice": false}, "axis": {"values": [0, 5, 10], "title": "Sucrose (µmol gfw⁻¹)"}}, "color": {"field": "c", "type": "nominal", "scale": {"domain": ["L", "D"], "range": ["#000000", "#808080"]}, "legend": null}}},
    {"mark": {"type": "tick", "orient": "horizontal", "size": 7, "thickness": 1}, "encoding": {"y": {"field": "hi", "type": "quantitative", "scale": {"domain": [0, 10], "nice": false}, "axis": {"values": [0, 5, 10], "title": "Sucrose (µmol gfw⁻¹)"}}, "color": {"field": "c", "type": "nominal", "scale": {"domain": ["L", "D"], "range": ["#000000", "#808080"]}, "legend": null}}},
    {"transform": [{"filter": "datum.t <= 22"}], "mark": {"type": "line", "color": "#000000", "strokeWidth": 1.8}, "encoding": {"y": {"field": "v", "type": "quantitative", "scale": {"domain": [0, 10], "nice": false}, "axis": {"values": [0, 5, 10], "title": "Sucrose (µmol gfw⁻¹)"}}}},
    {"transform": [{"filter": "datum.t >= 22"}], "mark": {"type": "line", "color": "#808080", "strokeWidth": 1.8}, "encoding": {"y": {"field": "v", "type": "quantitative", "scale": {"domain": [0, 10], "nice": false}, "axis": {"values": [0, 5, 10], "title": "Sucrose (µmol gfw⁻¹)"}}}},
    {"mark": {"type": "point", "shape": "diamond", "filled": true, "size": 55, "opacity": 1}, "encoding": {"y": {"field": "v", "type": "quantitative", "scale": {"domain": [0, 10], "nice": false}, "axis": {"values": [0, 5, 10], "title": "Sucrose (µmol gfw⁻¹)"}}, "color": {"field": "c", "type": "nominal", "scale": {"domain": ["L", "D"], "range": ["#000000", "#808080"]}, "legend": null}}}
   ]}
  ]},
 {"width": 165, "height": 163, "title": {"text": "E", "offset": -44},
  "encoding": {"x": {"field": "t", "type": "quantitative", "scale": {"domain": [4, 32], "nice": false}, "axis": {"values": [4, 8, 12, 16, 20, 24, 28, 32], "labelExpr": "datum.value == 4 ? '6:00' : datum.value == 12 ? '14:00' : datum.value == 20 ? '22:00' : datum.value == 28 ? '6:00' : ''", "title": "Time"}}},
  "layer": [
   {"data": {"name": "shade"}, "transform": [{"filter": "datum.p == 'E'"}], "mark": {"type": "rect", "color": "#dcdcde"}, "encoding": {"x2": {"field": "t2"}}},
   {"data": {"name": "pts"}, "transform": [{"filter": "datum.p == 'E'"}], "layer": [
    {"mark": {"type": "rule", "strokeWidth": 1}, "encoding": {"y": {"field": "lo", "type": "quantitative", "scale": {"domain": [0, 350], "nice": false}, "axis": {"values": [0, 50, 100, 150, 200, 250, 300, 350], "title": "Titratable acidity (µmol H⁺ gfw⁻¹)"}}, "y2": {"field": "hi"}, "color": {"field": "c", "type": "nominal", "scale": {"domain": ["L", "D"], "range": ["#000000", "#808080"]}, "legend": null}}},
    {"mark": {"type": "tick", "orient": "horizontal", "size": 7, "thickness": 1}, "encoding": {"y": {"field": "lo", "type": "quantitative", "scale": {"domain": [0, 350], "nice": false}, "axis": {"values": [0, 50, 100, 150, 200, 250, 300, 350], "title": "Titratable acidity (µmol H⁺ gfw⁻¹)"}}, "color": {"field": "c", "type": "nominal", "scale": {"domain": ["L", "D"], "range": ["#000000", "#808080"]}, "legend": null}}},
    {"mark": {"type": "tick", "orient": "horizontal", "size": 7, "thickness": 1}, "encoding": {"y": {"field": "hi", "type": "quantitative", "scale": {"domain": [0, 350], "nice": false}, "axis": {"values": [0, 50, 100, 150, 200, 250, 300, 350], "title": "Titratable acidity (µmol H⁺ gfw⁻¹)"}}, "color": {"field": "c", "type": "nominal", "scale": {"domain": ["L", "D"], "range": ["#000000", "#808080"]}, "legend": null}}},
    {"transform": [{"filter": "datum.t <= 22"}], "mark": {"type": "line", "color": "#000000", "strokeWidth": 1.8}, "encoding": {"y": {"field": "v", "type": "quantitative", "scale": {"domain": [0, 350], "nice": false}, "axis": {"values": [0, 50, 100, 150, 200, 250, 300, 350], "title": "Titratable acidity (µmol H⁺ gfw⁻¹)"}}}},
    {"transform": [{"filter": "datum.t >= 22"}], "mark": {"type": "line", "color": "#808080", "strokeWidth": 1.8}, "encoding": {"y": {"field": "v", "type": "quantitative", "scale": {"domain": [0, 350], "nice": false}, "axis": {"values": [0, 50, 100, 150, 200, 250, 300, 350], "title": "Titratable acidity (µmol H⁺ gfw⁻¹)"}}}},
    {"mark": {"type": "point", "shape": "diamond", "filled": true, "size": 55, "opacity": 1}, "encoding": {"y": {"field": "v", "type": "quantitative", "scale": {"domain": [0, 350], "nice": false}, "axis": {"values": [0, 50, 100, 150, 200, 250, 300, 350], "title": "Titratable acidity (µmol H⁺ gfw⁻¹)"}}, "color": {"field": "c", "type": "nominal", "scale": {"domain": ["L", "D"], "range": ["#000000", "#808080"]}, "legend": null}}}
   ]}
  ]},
 {"width": 175, "height": 163, "title": {"text": "J", "offset": -44},
  "encoding": {"x": {"field": "t", "type": "quantitative", "scale": {"domain": [4, 32], "nice": false}, "axis": {"values": [4, 8, 12, 16, 20, 24, 28, 32], "labelExpr": "datum.value == 4 ? '6:00' : datum.value == 12 ? '14:00' : datum.value == 20 ? '22:00' : datum.value == 28 ? '6:00' : ''", "title": "Time"}}},
  "layer": [
   {"data": {"name": "shade"}, "transform": [{"filter": "datum.p == 'J'"}], "mark": {"type": "rect", "color": "#dcdcde"}, "encoding": {"x2": {"field": "t2"}}},
   {"data": {"name": "pts"}, "transform": [{"filter": "datum.p == 'J'"}], "layer": [
    {"mark": {"type": "rule", "strokeWidth": 1}, "encoding": {"y": {"field": "lo", "type": "quantitative", "scale": {"domain": [0, 40], "nice": false}, "axis": {"values": [0, 20, 40], "title": "Starch (µmol Glc eq gfw⁻¹)"}}, "y2": {"field": "hi"}, "color": {"field": "c", "type": "nominal", "scale": {"domain": ["L", "D"], "range": ["#000000", "#808080"]}, "legend": null}}},
    {"mark": {"type": "tick", "orient": "horizontal", "size": 7, "thickness": 1}, "encoding": {"y": {"field": "lo", "type": "quantitative", "scale": {"domain": [0, 40], "nice": false}, "axis": {"values": [0, 20, 40], "title": "Starch (µmol Glc eq gfw⁻¹)"}}, "color": {"field": "c", "type": "nominal", "scale": {"domain": ["L", "D"], "range": ["#000000", "#808080"]}, "legend": null}}},
    {"mark": {"type": "tick", "orient": "horizontal", "size": 7, "thickness": 1}, "encoding": {"y": {"field": "hi", "type": "quantitative", "scale": {"domain": [0, 40], "nice": false}, "axis": {"values": [0, 20, 40], "title": "Starch (µmol Glc eq gfw⁻¹)"}}, "color": {"field": "c", "type": "nominal", "scale": {"domain": ["L", "D"], "range": ["#000000", "#808080"]}, "legend": null}}},
    {"transform": [{"filter": "datum.t <= 22"}], "mark": {"type": "line", "color": "#000000", "strokeWidth": 1.8}, "encoding": {"y": {"field": "v", "type": "quantitative", "scale": {"domain": [0, 40], "nice": false}, "axis": {"values": [0, 20, 40], "title": "Starch (µmol Glc eq gfw⁻¹)"}}}},
    {"transform": [{"filter": "datum.t >= 22"}], "mark": {"type": "line", "color": "#808080", "strokeWidth": 1.8}, "encoding": {"y": {"field": "v", "type": "quantitative", "scale": {"domain": [0, 40], "nice": false}, "axis": {"values": [0, 20, 40], "title": "Starch (µmol Glc eq gfw⁻¹)"}}}},
    {"mark": {"type": "point", "shape": "diamond", "filled": true, "size": 55, "opacity": 1}, "encoding": {"y": {"field": "v", "type": "quantitative", "scale": {"domain": [0, 40], "nice": false}, "axis": {"values": [0, 20, 40], "title": "Starch (µmol Glc eq gfw⁻¹)"}}, "color": {"field": "c", "type": "nominal", "scale": {"domain": ["L", "D"], "range": ["#000000", "#808080"]}, "legend": null}}}
   ]}
  ]},
 {"width": 173, "height": 163, "title": {"text": "O", "offset": -44},
  "encoding": {"x": {"field": "t", "type": "quantitative", "scale": {"domain": [4, 32], "nice": false}, "axis": {"values": [4, 8, 12, 16, 20, 24, 28, 32], "labelExpr": "datum.value == 4 ? '6:00' : datum.value == 12 ? '14:00' : datum.value == 20 ? '22:00' : datum.value == 28 ? '6:00' : ''", "title": "Time"}}},
  "layer": [
   {"data": {"name": "shade"}, "transform": [{"filter": "datum.p == 'O'"}], "mark": {"type": "rect", "color": "#dcdcde"}, "encoding": {"x2": {"field": "t2"}}},
   {"data": {"name": "pts"}, "transform": [{"filter": "datum.p == 'O'"}], "layer": [
    {"mark": {"type": "rule", "strokeWidth": 1}, "encoding": {"y": {"field": "lo", "type": "quantitative", "scale": {"domain": [0, 10], "nice": false}, "axis": {"values": [0, 5, 10], "title": "Sucrose (µmol gfw⁻¹)"}}, "y2": {"field": "hi"}, "color": {"field": "c", "type": "nominal", "scale": {"domain": ["L", "D"], "range": ["#000000", "#808080"]}, "legend": null}}},
    {"mark": {"type": "tick", "orient": "horizontal", "size": 7, "thickness": 1}, "encoding": {"y": {"field": "lo", "type": "quantitative", "scale": {"domain": [0, 10], "nice": false}, "axis": {"values": [0, 5, 10], "title": "Sucrose (µmol gfw⁻¹)"}}, "color": {"field": "c", "type": "nominal", "scale": {"domain": ["L", "D"], "range": ["#000000", "#808080"]}, "legend": null}}},
    {"mark": {"type": "tick", "orient": "horizontal", "size": 7, "thickness": 1}, "encoding": {"y": {"field": "hi", "type": "quantitative", "scale": {"domain": [0, 10], "nice": false}, "axis": {"values": [0, 5, 10], "title": "Sucrose (µmol gfw⁻¹)"}}, "color": {"field": "c", "type": "nominal", "scale": {"domain": ["L", "D"], "range": ["#000000", "#808080"]}, "legend": null}}},
    {"transform": [{"filter": "datum.t <= 22"}], "mark": {"type": "line", "color": "#000000", "strokeWidth": 1.8}, "encoding": {"y": {"field": "v", "type": "quantitative", "scale": {"domain": [0, 10], "nice": false}, "axis": {"values": [0, 5, 10], "title": "Sucrose (µmol gfw⁻¹)"}}}},
    {"transform": [{"filter": "datum.t >= 22"}], "mark": {"type": "line", "color": "#808080", "strokeWidth": 1.8}, "encoding": {"y": {"field": "v", "type": "quantitative", "scale": {"domain": [0, 10], "nice": false}, "axis": {"values": [0, 5, 10], "title": "Sucrose (µmol gfw⁻¹)"}}}},
    {"mark": {"type": "point", "shape": "diamond", "filled": true, "size": 55, "opacity": 1}, "encoding": {"y": {"field": "v", "type": "quantitative", "scale": {"domain": [0, 10], "nice": false}, "axis": {"values": [0, 5, 10], "title": "Sucrose (µmol gfw⁻¹)"}}, "color": {"field": "c", "type": "nominal", "scale": {"domain": ["L", "D"], "range": ["#000000", "#808080"]}, "legend": null}}}
   ]}
  ]}
]
}
